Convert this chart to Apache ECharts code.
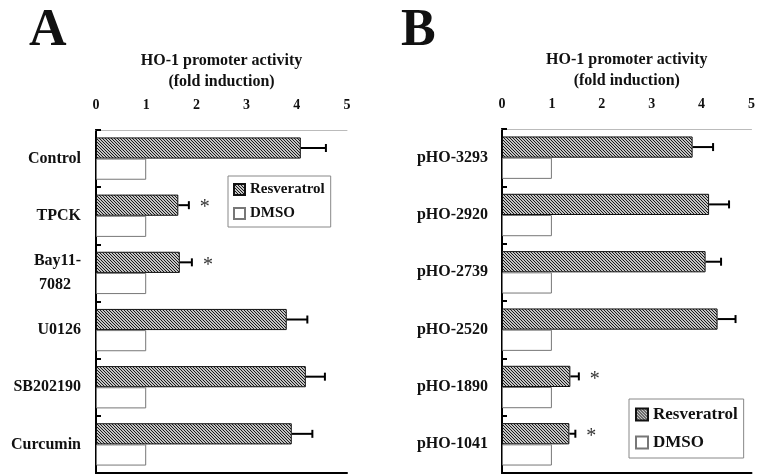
<!DOCTYPE html>
<html><head><meta charset="utf-8">
<script src="https://cdn.jsdelivr.net/npm/echarts@6/dist/echarts.min.js"></script>
<style>html,body{margin:0;padding:0;background:#fff}#c{width:758px;height:475px}</style>
</head><body><div id="c"></div>
<script>
// ---- data ----
const catsA = ['Control', 'TPCK', 'Bay11-7082', 'U0126', 'SB202190', 'Curcumin'];
const resA  = [4.08, 1.64, 1.67, 3.80, 4.18, 3.90];
const errA  = [0.50, 0.21, 0.24, 0.41, 0.38, 0.41];
const dmsoA = [1, 1, 1, 1, 1, 1];
const sigA  = [0, 1, 1, 0, 0, 0];

const catsB = ['pHO-3293', 'pHO-2920', 'pHO-2739', 'pHO-2520', 'pHO-1890', 'pHO-1041'];
const resB  = [3.82, 4.15, 4.08, 4.32, 1.37, 1.35];
const errB  = [0.41, 0.40, 0.31, 0.36, 0.17, 0.12];
const dmsoB = [1, 1, 1, 1, 1, 1];
const sigB  = [0, 0, 0, 0, 1, 1];

const xTicks = [0, 1, 2, 3, 4, 5];
const axisTitle = 'HO-1 promoter activity\n(fold induction)';
const seriesNames = ['Resveratrol', 'DMSO'];

// ---- styles ----
const FONT = 'Liberation Serif';
const GAP = 0.26;
const SIDE = -1;

const pc = document.createElement('canvas');
pc.width = 3; pc.height = 3;
const g = pc.getContext('2d');
g.fillStyle = '#c4c4c4'; g.fillRect(0, 0, 3, 3);
g.fillStyle = '#1a1a1a';
for (let i = 0; i < 3; i++) { g.fillRect(i, i, 1, 1); }
const hatch = { image: pc, repeat: 'repeat' };

function errRender(params, api) {
  const v = api.value(0), c = api.value(1), e = api.value(2), s = api.value(3);
  const p0 = api.coord([v, c]);
  const p1 = api.coord([v + e, c]);
  const band = api.size([0, 1])[1];
  const bw = band * (1 - GAP) / 2;
  const y = p0[1] + SIDE * bw / 2;
  const ch = [
    { type: 'line', shape: { x1: p0[0], y1: y, x2: p1[0], y2: y }, style: { stroke: '#000', lineWidth: 2 } },
    { type: 'line', shape: { x1: p1[0], y1: y - 4, x2: p1[0], y2: y + 4 }, style: { stroke: '#000', lineWidth: 2 } }
  ];
  if (s) {
    ch.push({ type: 'text', style: { text: '*', x: p1[0] + 16, y: y + 3, font: '20px "Liberation Serif"', align: 'center', verticalAlign: 'middle', fill: '#333' } });
  }
  return { type: 'group', children: ch };
}

function xTop(gi) {
  return {
    gridIndex: gi, type: 'value', position: 'top', min: 0, max: 5, interval: 1,
    axisLine: { show: true, lineStyle: { color: '#bbb', width: 1 } },
    axisTick: { inside: true, length: 5, customValues: xTicks, lineStyle: { color: '#000', width: 2 } },
    axisLabel: { margin: 18, customValues: xTicks, fontFamily: FONT, fontWeight: 'bold', fontSize: 14, color: '#111' },
    splitLine: { show: false },
    name: axisTitle, nameLocation: 'middle', nameGap: 38,
    nameTextStyle: { fontFamily: FONT, fontWeight: 'bold', fontSize: 16, color: '#111', lineHeight: 21 }
  };
}
function xBottom(gi) {
  return {
    gridIndex: gi, type: 'value', position: 'bottom', min: 0, max: 5,
    axisLine: { show: true, lineStyle: { color: '#000', width: 2 } },
    axisTick: { show: false }, axisLabel: { show: false }, splitLine: { show: false }
  };
}
function yLeft(gi, cats, margin) {
  return {
    gridIndex: gi, type: 'category', data: cats, inverse: true,
    axisLine: { show: true, lineStyle: { color: '#000', width: 2 } },
    axisTick: { show: true, inside: true, length: 5, lineStyle: { color: '#000', width: 2 } },
    axisLabel: {
      margin: margin, fontFamily: FONT, fontWeight: 'bold', fontSize: 16, color: '#111',
      formatter: function (v) {
        const i = v.indexOf('-');
        if (v.indexOf('Bay') === 0 && i > 0) return '{a|' + v.slice(0, i + 1) + '}\n{b|' + v.slice(i + 1) + '}';
        return v;
      },
      rich: {
        a: { fontFamily: FONT, fontWeight: 'bold', fontSize: 16, color: '#111', lineHeight: 24 },
        b: { fontFamily: FONT, fontWeight: 'bold', fontSize: 16, color: '#111', lineHeight: 24, padding: [0, 10, 0, 0] }
      }
    }
  };
}
function yRight(gi, cats) {
  return {
    gridIndex: gi, type: 'category', data: cats, inverse: true, position: 'right',
    axisLine: { show: true, lineStyle: { color: '#000', width: 2 } },
    axisTick: { show: false }, axisLabel: { show: false }
  };
}
function barsFor(xi, yi, res, dmso, err, sig) {
  return [
    { name: seriesNames[0], type: 'bar', xAxisIndex: xi, yAxisIndex: yi, data: res,
      barGap: '0%', barCategoryGap: (GAP * 100) + '%',
      itemStyle: { color: hatch, borderColor: '#111', borderWidth: 1 }, silent: true },
    { name: seriesNames[1], type: 'bar', xAxisIndex: xi, yAxisIndex: yi, data: dmso,
      barGap: '0%', barCategoryGap: (GAP * 100) + '%',
      itemStyle: { color: '#fff', borderColor: '#777', borderWidth: 1 }, silent: true },
    { type: 'custom', xAxisIndex: xi, yAxisIndex: yi, renderItem: errRender, silent: true, z: 5,
      encode: { x: 0, y: 1 },
      data: res.map((v, i) => [v, i, err[i], sig[i]]) }
  ];
}

const chart = echarts.init(document.getElementById('c'));
chart.setOption({
  animation: false,
  backgroundColor: '#fff',
  title: [
    { text: 'A', left: 24, top: 1, textStyle: { fontFamily: FONT, fontWeight: 'bold', fontSize: 52, color: '#111' } },
    { text: 'B', left: 396, top: 1, textStyle: { fontFamily: FONT, fontWeight: 'bold', fontSize: 52, color: '#111' } }
  ],
  legend: [
    { data: seriesNames, orient: 'vertical', left: 228, top: 176, itemWidth: 11, itemHeight: 11, itemGap: 9,
      padding: [6, 6, 6, 5], borderColor: '#888', borderWidth: 1, selectedMode: false, icon: 'rect',
      textStyle: { fontFamily: FONT, fontWeight: 'bold', fontSize: 15, color: '#111' } },
    { data: seriesNames, orient: 'vertical', left: 629, top: 399, itemWidth: 12, itemHeight: 12, itemGap: 11,
      padding: [7, 6, 7, 6], borderColor: '#888', borderWidth: 1, selectedMode: false, icon: 'rect',
      textStyle: { fontFamily: FONT, fontWeight: 'bold', fontSize: 17, color: '#111' } }
  ],
  grid: [
    { left: 96, top: 130, width: 251, height: 343 },
    { left: 502, top: 129, width: 251, height: 344 }
  ],
  xAxis: [xTop(0), xBottom(0), xTop(1), xBottom(1)],
  yAxis: [yLeft(0, catsA, 15), yRight(0, catsA), yLeft(1, catsB, 14), yRight(1, catsB)],
  series: [].concat(
    barsFor(0, 0, resA, dmsoA, errA, sigA),
    barsFor(2, 2, resB, dmsoB, errB, sigB)
  )
});
</script></body></html>
